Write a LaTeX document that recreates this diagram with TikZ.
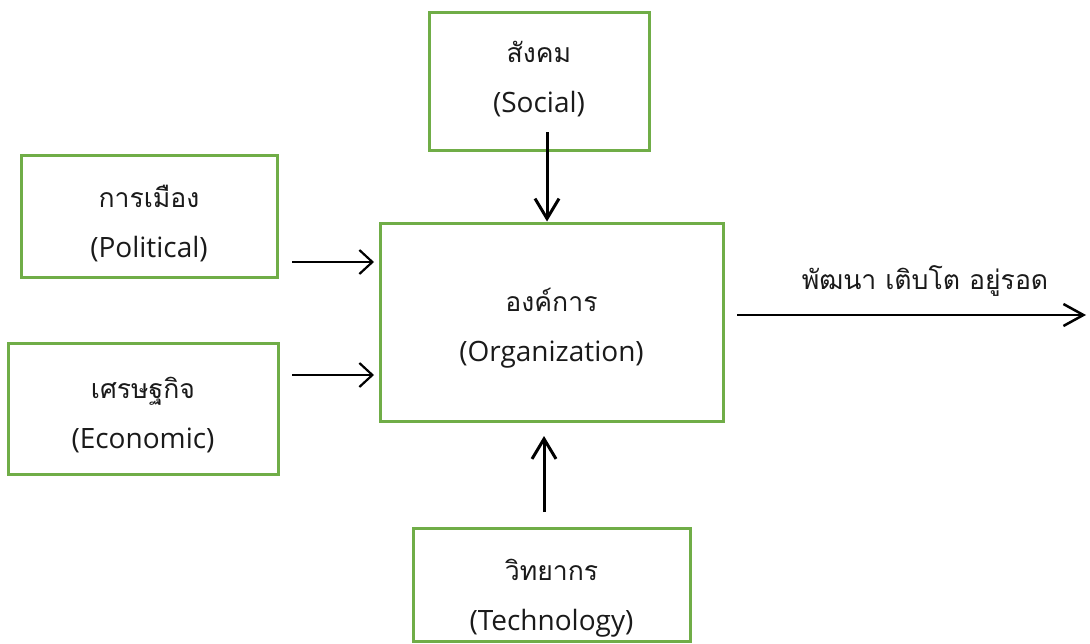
\documentclass[tikz,border=0pt]{standalone}
\usepackage{fontspec}
\setmainfont{Open Sans}
\newfontfamily\thaifont[Script=Thai,Scale=0.95]{Loma}
\usetikzlibrary{arrows.meta}
\definecolor{boxgreen}{HTML}{70AD47}
\definecolor{txt}{HTML}{1A1A1A}
\begin{document}
\begin{tikzpicture}[x=1pt,y=-1pt,
  box/.style={draw=boxgreen, line width=3pt, inner sep=0pt},
  btxt/.style={inner sep=0pt, align=center, text=txt, font=\fontsize{28}{50}\selectfont},
  lbl/.style={inner sep=0pt, text=txt, font=\fontsize{28}{34}\selectfont},
  harr/.style={line width=2.2pt, -{Straight Barb[length=13pt,width=24pt,line width=2.2pt]}},
  varr/.style={line width=3pt, -{Straight Barb[length=20pt,width=24pt,line width=3pt]}},
  oarr/.style={line width=2.5pt, -{Straight Barb[length=20pt,width=22pt,line width=2.5pt]}}]
\useasboundingbox (0,0) rectangle (1090,643);
\fill[white] (0,0) rectangle (1090,643);

\node[box, minimum width=220pt, minimum height=138pt] (soc) at (539,81) {};
\node[btxt] (soct) at ([yshift=2pt]soc.center) {{\thaifont สังคม}\\(Social)};
\node[box, minimum width=256pt, minimum height=122pt] (pol) at (149,216) {};
\node[btxt] (polt) at ([yshift=-8pt]pol.center) {{\thaifont การเมือง}\\(Political)};
\node[box, minimum width=270pt, minimum height=131pt] (eco) at (143,408.5) {};
\node[btxt] (ecot) at ([yshift=-7pt]eco.center) {{\thaifont เศรษฐกิจ}\\(Economic)};
\node[box, minimum width=343pt, minimum height=198pt] (org) at (551.5,322) {};
\node[btxt] (orgt) at ([yshift=-6pt]org.center) {{\thaifont องค์การ}\\(Organization)};
\node[box, minimum width=277pt, minimum height=113pt] (tec) at (551.5,584.5) {};
\node[btxt] (tect) at ([yshift=-14pt]tec.center) {{\thaifont วิทยากร}\\(Technology)};

\coordinate (sa) at (547,132);
\draw[varr] (sa) -- (sa |- org.north);

\coordinate (ta) at (544,512);
\coordinate (tb) at (544,436);
\draw[varr] (ta) -- (tb);

\coordinate (pa) at (292,262);
\coordinate (pb) at (374,262);
\draw[harr] (pa) -- (pb);

\coordinate (ea) at (292,375);
\coordinate (eb) at (374,375);
\draw[harr] (ea) -- (eb);

\coordinate (oa) at (737,315);
\coordinate (ob) at (1086,315);
\draw[oarr] (oa) -- (ob);
\node[lbl] (out) at (925,281) {\thaifont พัฒนา เติบโต อยู่รอด};
\end{tikzpicture}
\end{document}
